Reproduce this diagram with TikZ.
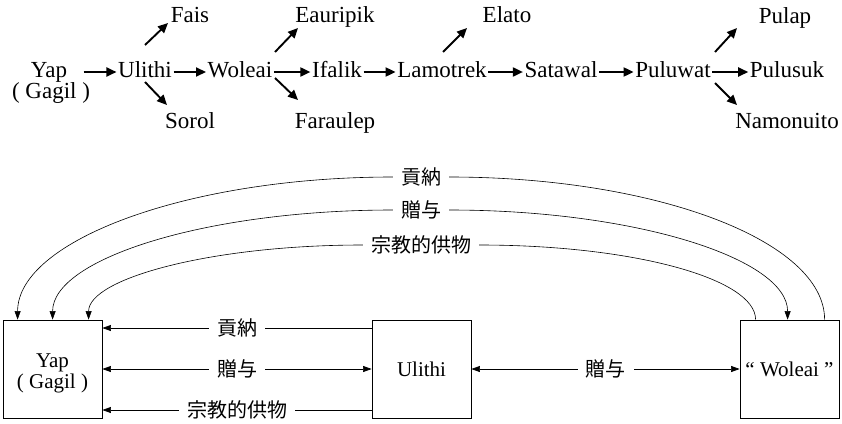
\documentclass[tikz,border=0pt]{standalone}
\usepackage{fontspec}
\setmainfont{Liberation Serif}
\newfontfamily\cjk{Noto Sans CJK JP}
\usetikzlibrary{arrows.meta,calc}
\begin{document}
\begin{tikzpicture}[x=1pt,y=-1pt,
  isl/.style={font=\fontsize{23}{24}\selectfont, inner xsep=1.5pt, inner ysep=0pt, text height=15pt, text depth=5pt, anchor=base},
  bigarr/.style={line width=1.9pt, -{Triangle[length=10pt,width=9pt]}},
  thinline/.style={line width=0.6pt},
  thinarr/.style={line width=0.6pt, -{Triangle[length=8.5pt,width=6pt]}},
  thinboth/.style={line width=0.6pt, {Triangle[length=8.5pt,width=6pt]}-{Triangle[length=8.5pt,width=6pt]}},
  box/.style={draw, line width=0.8pt, minimum width=99pt, minimum height=98pt, inner sep=0pt},
  boxtext/.style={font=\fontsize{21}{21}\selectfont, align=center, inner sep=0pt},
  lab/.style={font=\cjk\fontsize{20}{20}\selectfont, fill=white, inner xsep=8pt, inner ysep=2pt}
]
\useasboundingbox (0,0) rectangle (842,423);

% ---------- top chain ----------
\node[isl] (yap) at (49,77) {Yap};
\node[isl] (gagil) at (51,98) {( Gagil )};
\node[isl] (ulithi) at (145,77) {Ulithi};
\node[isl] (woleai) at (240,77) {Woleai};
\node[isl] (ifalik) at (337,77) {Ifalik};
\node[isl] (lamotrek) at (442,77) {Lamotrek};
\node[isl] (satawal) at (561,77) {Satawal};
\node[isl] (puluwat) at (673,77) {Puluwat};
\node[isl] (pulusuk) at (787,77) {Pulusuk};
\node[isl] (fais) at (190,22) {Fais};
\node[isl] (sorol) at (190,128) {Sorol};
\node[isl] (eauripik) at (335,22) {Eauripik};
\node[isl] (faraulep) at (335,128) {Faraulep};
\node[isl] (elato) at (507,22) {Elato};
\node[isl] (pulap) at (785,23) {Pulap};
\node[isl] (namonuito) at (787,128) {Namonuito};

\draw[bigarr, shorten <=15pt] (yap.east) -- (ulithi.west);
\draw[bigarr] (ulithi.east) -- (woleai.west);
\draw[bigarr] (woleai.east) -- (ifalik.west);
\draw[bigarr] (ifalik.east) -- (lamotrek.west);
\draw[bigarr] (lamotrek.east) -- (satawal.west);
\draw[bigarr] (satawal.east) -- (puluwat.west);
\draw[bigarr] (puluwat.east) -- (pulusuk.west);

\draw[bigarr] ($(ulithi.base)+(0,-32)$) -- ++(23,-22);
\draw[bigarr] ($(ulithi.base)+(0,5)$) -- ++(22,23);
\draw[bigarr] ($(woleai.base)+(35,-25)$) -- ++(23,-24);
\draw[bigarr] ($(woleai.base)+(35,1)$) -- ++(23,22);
\draw[bigarr] ($(lamotrek.base)+(1,-25)$) -- ++(24,-24);
\draw[bigarr] ($(puluwat.base)+(42,-25)$) -- ++(22,-24);
\draw[bigarr] ($(puluwat.base)+(42,6)$) -- ++(22,22);

% ---------- bottom boxes ----------
\node[box] (yapbox) at (52.5,369) {};
\node[boxtext] (yaptext) at ($(yapbox.center)+(0,4)$) {Yap\\( Gagil )};
\node[box] (ulithibox) at (421.5,369) {};
\node[boxtext] (ulithitext) at (ulithibox.center) {Ulithi};
\node[box] (woleaibox) at (789.5,369) {};
\node[boxtext] (woleaitext) at (woleaibox.center) {“ Woleai ”};

\draw[thinarr] ([yshift=41pt]ulithibox.west) -- node[lab] {貢納} ([yshift=41pt]yapbox.east);
\draw[thinboth] (yapbox.east) -- node[lab] {贈与} (ulithibox.west);
\draw[thinarr] ([yshift=-41pt]ulithibox.west) -- node[lab] {宗教的供物} ([yshift=-41pt]yapbox.east);
\draw[thinboth] (ulithibox.east) -- node[lab] {贈与} (woleaibox.west);

% ---------- top arcs ----------
\node[lab] (t1) at (421,177) {貢納};
\node[lab] (t2) at (421,210) {贈与};
\node[lab] (t3) at (421,245) {宗教的供物};

\draw[thinarr] (t1.west) .. controls +(-205,0) and +(0,-79) .. ($(yapbox.north west)+(15,0)$);
\draw[thinarr] (t2.west) .. controls +(-186,0) and +(0,-61) .. ($(yapbox.north west)+(50,0)$);
\draw[thinarr] (t3.west) .. controls +(-152,0) and +(0,-41) .. ($(yapbox.north west)+(86,0)$);
\draw[thinline] (t1.east) .. controls +(206,0) and +(0,-79) .. ($(woleaibox.north west)+(85,0)$);
\draw[thinarr] (t2.east) .. controls +(186,0) and +(0,-61) .. ($(woleaibox.north west)+(48,0)$);
\draw[thinline] (t3.east) .. controls +(154,0) and +(0,-41) .. ($(woleaibox.north west)+(16,0)$);
\end{tikzpicture}
\end{document}
